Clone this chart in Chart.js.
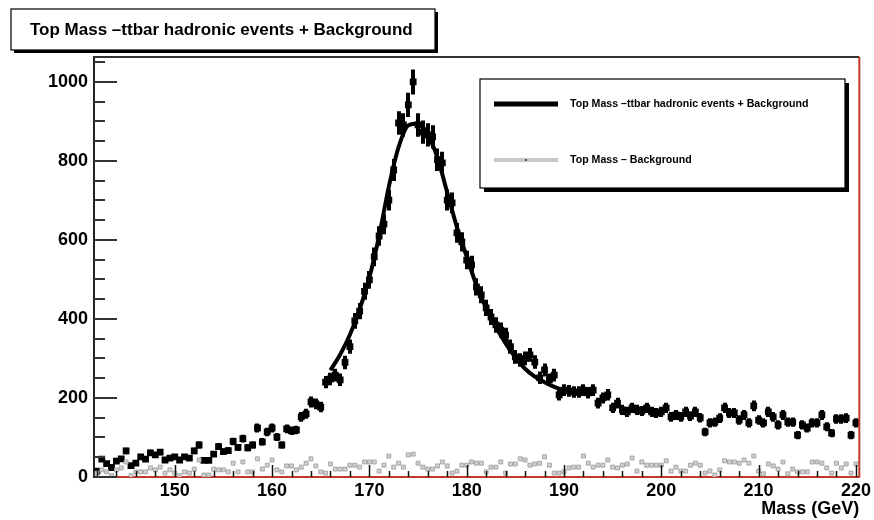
<!DOCTYPE html>
<html>
<head>
<meta charset="utf-8">
<script src="https://cdn.jsdelivr.net/npm/chart.js@4.4.0/dist/chart.umd.min.js"></script>
<style>
  body { margin: 0; background: #fff; }
</style>
</head>
<body>
<canvas id="myChart" width="874" height="520"></canvas>
<script>
// histogram bins (GeV)
const binStart = 142.0
const binWidth = 0.5

// top mass, ttbar hadronic + background (counts per bin)
const signalCounts = [
  15, 45, 34, 24, 40, 46, 66, 29, 35, 51,
  45, 61, 56, 63, 43, 48, 51, 43, 51, 48,
  66, 81, 42, 42, 58, 77, 64, 67, 90, 75,
  97, 74, 81, 124, 89, 114, 124, 101, 81, 122,
  117, 119, 152, 160, 190, 185, 177, 240, 248, 258,
  246, 290, 330, 395, 420, 470, 499, 557, 610, 640,
  701, 777, 896, 891, 942, 1000, 891, 873, 866, 861,
  803, 795, 701, 694, 618, 595, 549, 537, 481, 461,
  428, 405, 385, 372, 359, 330, 304, 296, 300, 309,
  291, 251, 271, 246, 258, 208, 220, 218, 215, 215,
  220, 213, 220, 187, 200, 208, 175, 187, 170, 165,
  175, 170, 167, 175, 165, 162, 165, 175, 152, 157,
  152, 165, 154, 165, 150, 114, 137, 139, 149, 175,
  162, 162, 144, 157, 137, 180, 144, 137, 165, 152,
  132, 157, 139, 139, 106, 132, 124, 137, 137, 157,
  127, 111, 147, 147, 149, 106, 137
]

// background only
const backgroundCounts = [
  10, 18, 13, 3, 18, 23, 38, 3, 13, 13,
  13, 23, 18, 25, 10, 18, 10, 3, 13, 10,
  20, 43, 5, 5, 20, 18, 18, 13, 35, 13,
  38, 13, 13, 46, 20, 30, 43, 18, 13, 28,
  28, 18, 25, 35, 46, 28, 13, 10, 33, 20,
  20, 20, 30, 30, 25, 38, 38, 38, 15, 30,
  53, 25, 35, 25, 56, 58, 35, 25, 20, 20,
  28, 38, 28, 10, 15, 30, 30, 38, 35, 35,
  13, 25, 25, 38, 10, 33, 33, 46, 43, 30,
  33, 35, 51, 30, 10, 10, 13, 23,
  25, 25, 53, 35, 25, 30, 30, 43, 25, 23,
  30, 33, 48, 15, 38, 30, 30, 30, 30, 41,
  15, 25, 15, 15, 30, 35, 30, 10, 15, 5,
  18, 41, 38, 38, 35, 43, 35, 53, 15, 8,
  33, 28, 20, 38, 8, 20, 13, 13, 13, 38,
  38, 35, 23, 10, 35, 23, 33, 10, 33
]

// fit curve
const fitMass = [166, 167, 168, 169, 170, 171, 172, 173, 174, 175, 176, 177, 178,
  179, 180, 181, 182, 183, 184, 185, 186, 187, 188, 189, 190]
const fitValues = [270, 310, 360, 425, 505, 610, 735, 835, 890, 895, 866, 808, 720,
  632, 558, 485, 428, 380, 338, 303, 274, 254, 240, 228, 219]

const xTickLabels = [150, 160, 170, 180, 190, 200, 210, 220]
const yTickLabels = [0, 200, 400, 600, 800, 1000]

const titleText = 'Top Mass \u2013ttbar hadronic events + Background'
const fontFam = '"Liberation Sans", Helvetica, Arial, sans-serif'
const frameRed = '#c0392b'

const toPoints = arr => arr.map((v, i) => ({ x: binStart + i * binWidth, y: v }))

// ROOT-ish frame, inward ticks, error bars, title box and legend
const rootStyle = {
  id: 'rootStyle',
  beforeDraw(chart) {
    const c = chart.ctx
    c.save()
    c.fillStyle = '#fff'
    c.fillRect(0, 0, chart.width, chart.height)
    c.restore()
  },
  beforeDatasetsDraw(chart) {
    // poisson error bars on the data points
    const c = chart.ctx, xs = chart.scales.x, ys = chart.scales.y, a = chart.chartArea
    c.save()
    c.beginPath()
    c.rect(a.left, a.top, a.right - a.left, a.bottom - a.top)
    c.clip()
    c.strokeStyle = '#000'
    c.lineWidth = 4
    signalCounts.forEach((v, i) => {
      const px = Math.round(xs.getPixelForValue(binStart + i * binWidth))
      const e = Math.sqrt(v)
      c.beginPath()
      c.moveTo(px, ys.getPixelForValue(v - e))
      c.lineTo(px, ys.getPixelForValue(v + e))
      c.stroke()
    })
    c.restore()
  },
  afterDraw(chart) {
    const c = chart.ctx, xs = chart.scales.x, ys = chart.scales.y, a = chart.chartArea
    c.save()

    // top + right frame
    c.strokeStyle = '#333'
    c.lineWidth = 2
    c.beginPath(); c.moveTo(a.left, a.top); c.lineTo(a.right, a.top); c.stroke()
    c.strokeStyle = frameRed
    c.beginPath(); c.moveTo(a.right, a.top); c.lineTo(a.right, a.bottom); c.stroke()

    // x ticks pointing up
    c.strokeStyle = '#111'
    c.lineWidth = 1.5
    for (let m = 142; m <= 220; m += 2) {
      const px = Math.round(xs.getPixelForValue(m)) + 0.5
      const len = (m % 10 === 0) ? 12 : 6
      c.beginPath(); c.moveTo(px, a.bottom); c.lineTo(px, a.bottom - len); c.stroke()
    }
    // y ticks pointing right
    c.strokeStyle = '#333'
    c.lineWidth = 2
    for (let v = 0; v <= 1050; v += 50) {
      const py = Math.round(ys.getPixelForValue(v))
      const len = (v % 200 === 0) ? 23 : 11
      c.beginPath(); c.moveTo(a.left, py); c.lineTo(a.left + len, py); c.stroke()
    }

    // title box
    c.fillStyle = '#000'
    c.fillRect(14, 12, 424, 41)
    c.fillStyle = '#fff'
    c.fillRect(11, 9, 424, 41)
    c.strokeStyle = '#000'
    c.lineWidth = 1.2
    c.strokeRect(11, 9, 424, 41)
    c.fillStyle = '#000'
    c.font = 'bold 17px ' + fontFam
    c.textBaseline = 'middle'
    c.textAlign = 'left'
    c.fillText(titleText, 30, 30)

    // legend box
    const lx = 480, ly = 79, lw = 365, lh = 109
    c.fillStyle = '#000'
    c.fillRect(lx + 4, ly + 4, lw, lh)
    c.fillStyle = '#fff'
    c.fillRect(lx, ly, lw, lh)
    c.strokeStyle = '#000'
    c.lineWidth = 1.2
    c.strokeRect(lx, ly, lw, lh)
    c.font = 'bold 10.6px ' + fontFam
    const entries = [
      { label: chart.data.datasets[2].label, color: '#000', w: 5, y: 104 },
      { label: chart.data.datasets[0].label, color: '#c8c8c8', w: 4, y: 160 }
    ]
    entries.forEach(en => {
      c.strokeStyle = en.color
      c.lineWidth = en.w
      c.beginPath(); c.moveTo(494, en.y); c.lineTo(558, en.y); c.stroke()
      c.fillStyle = '#000'
      c.fillText(en.label, 570, en.y)
    })
    c.fillStyle = '#555'
    c.fillRect(525, 159, 2, 2)

    c.restore()
  }
}

const ctx = document.getElementById('myChart')

new Chart(ctx, {
  type: 'scatter',
  data: {
    datasets: [
      {
        label: 'Top Mass \u2013 Background',
        data: toPoints(backgroundCounts),
        pointStyle: 'rect',
        pointRadius: 2.8,
        backgroundColor: '#d0d0d0',
        borderColor: '#999',
        borderWidth: 0.8
      },
      {
        label: titleText,
        data: toPoints(signalCounts),
        pointStyle: 'rect',
        pointRadius: 4.8,
        backgroundColor: '#000',
        borderColor: '#000',
        borderWidth: 0
      },
      {
        type: 'line',
        label: titleText,
        data: fitMass.map((m, i) => ({ x: m, y: fitValues[i] })),
        borderColor: '#000',
        borderWidth: 4,
        pointRadius: 0,
        tension: 0.4,
        cubicInterpolationMode: 'monotone',
        fill: false
      }
    ]
  },
  options: {
    responsive: false,
    animation: false,
    devicePixelRatio: 1,
    layout: { padding: { top: 57, right: 14, left: 0, bottom: 0 } },
    plugins: {
      legend: { display: false },
      title: { display: false },
      tooltip: { enabled: false }
    },
    scales: {
      x: {
        type: 'linear',
        min: 141.7,
        max: 220.35,
        afterBuildTicks: s => { s.ticks = xTickLabels.map(v => ({ value: v })) },
        afterFit: s => { s.height = 43 },
        ticks: {
          autoSkip: false,
          maxRotation: 0,
          padding: 3,
          color: '#000',
          callback: v => String(v),
          font: { family: fontFam, weight: 'bold', size: 18 }
        },
        grid: { display: false, drawTicks: false },
        border: { color: frameRed, width: 2 },
        title: {
          display: true,
          text: 'Mass (GeV)',
          align: 'end',
          color: '#000',
          padding: { top: 1, bottom: 0 },
          font: { family: fontFam, weight: 'bold', size: 18 }
        }
      },
      y: {
        min: 0,
        max: 1063,
        afterBuildTicks: s => { s.ticks = yTickLabels.map(v => ({ value: v })) },
        afterFit: s => { s.width = 94 },
        ticks: {
          padding: 6,
          color: '#000',
          callback: v => String(v),
          font: { family: fontFam, weight: 'bold', size: 18 }
        },
        grid: { display: false, drawTicks: false },
        border: { color: '#222', width: 2 }
      }
    }
  },
  plugins: [rootStyle]
})
</script>
</body>
</html>
